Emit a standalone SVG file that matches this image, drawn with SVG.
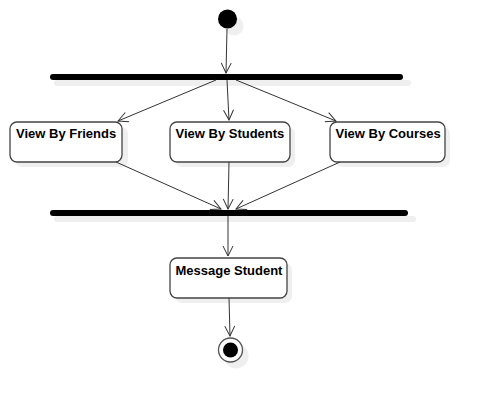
<svg xmlns="http://www.w3.org/2000/svg" width="485" height="403" viewBox="0 0 485 403">
<style>
.shadow{fill:#efefef;stroke:none}
.node{fill:#fff;stroke:#444;stroke-width:1.3}
.bar{stroke:#000;stroke-width:6;stroke-linecap:round}
.barsh{stroke:#efefef;stroke-width:6;stroke-linecap:round}
.lbl{font-family:"Liberation Sans",Arial,sans-serif;font-weight:bold;font-size:13px;fill:#000}
.edge{fill:none;stroke:#333;stroke-width:1;marker-end:url(#arr)}
</style>
<defs>
<marker id="arr" viewBox="0 0 12 12" refX="11" refY="6" markerWidth="12" markerHeight="12" markerUnits="userSpaceOnUse" orient="auto">
<path d="M1,1 L11,6 L1,11" fill="none" stroke="#333" stroke-width="1"/>
</marker>
</defs>
<rect width="485" height="403" fill="#fff"/>
<g id="start">
<circle class="shadow" cx="234" cy="26" r="9.5"/>
<circle cx="227.5" cy="19" r="9.5" fill="#000"/>
</g>
<g id="fork1">
<line class="barsh" x1="57" y1="83" x2="408" y2="83"/>
<line class="bar" x1="53" y1="77" x2="400" y2="77"/>
</g>
<g id="viewByFriends">
<rect class="shadow" x="15" y="127" width="113" height="40" rx="7"/>
<rect class="node" x="10" y="122" width="112" height="40" rx="7"/>
<text class="lbl" x="16" y="138">View By Friends</text>
</g>
<g id="viewByStudents">
<rect class="shadow" x="175" y="127" width="120" height="40" rx="7"/>
<rect class="node" x="170" y="122" width="120" height="40" rx="7"/>
<text class="lbl" x="175.5" y="138">View By Students</text>
</g>
<g id="viewByCourses">
<rect class="shadow" x="335" y="127" width="115" height="40" rx="7"/>
<rect class="node" x="330" y="122" width="115" height="40" rx="7"/>
<text class="lbl" x="335.5" y="138">View By Courses</text>
</g>
<g id="join1">
<line class="barsh" x1="57" y1="219" x2="413" y2="219"/>
<line class="bar" x1="53" y1="213" x2="405" y2="213"/>
</g>
<g id="messageStudent">
<rect class="shadow" x="175" y="263" width="117" height="40" rx="7"/>
<rect class="node" x="170" y="258" width="117" height="40" rx="7"/>
<text class="lbl" x="175.5" y="275">Message Student</text>
</g>
<g id="end">
<circle class="shadow" cx="236" cy="356" r="12.5"/>
<circle cx="230.5" cy="350" r="12" fill="#fff" stroke="#555" stroke-width="1.3"/>
<circle cx="230.5" cy="350" r="7.5" fill="#000"/>
</g>
<g id="connectors">
<path class="edge" d="M227,29 L226,73"/>
<path class="edge" d="M216,80 L118,121"/>
<path class="edge" d="M227,80 L229,120"/>
<path class="edge" d="M236,80 L336,121"/>
<path class="edge" d="M116,162 L221,209"/>
<path class="edge" d="M229,162 L228,209"/>
<path class="edge" d="M340,162 L236,209"/>
<path class="edge" d="M228,216 L228,256"/>
<path class="edge" d="M229,298 L230,336"/>
</g>
</svg>
